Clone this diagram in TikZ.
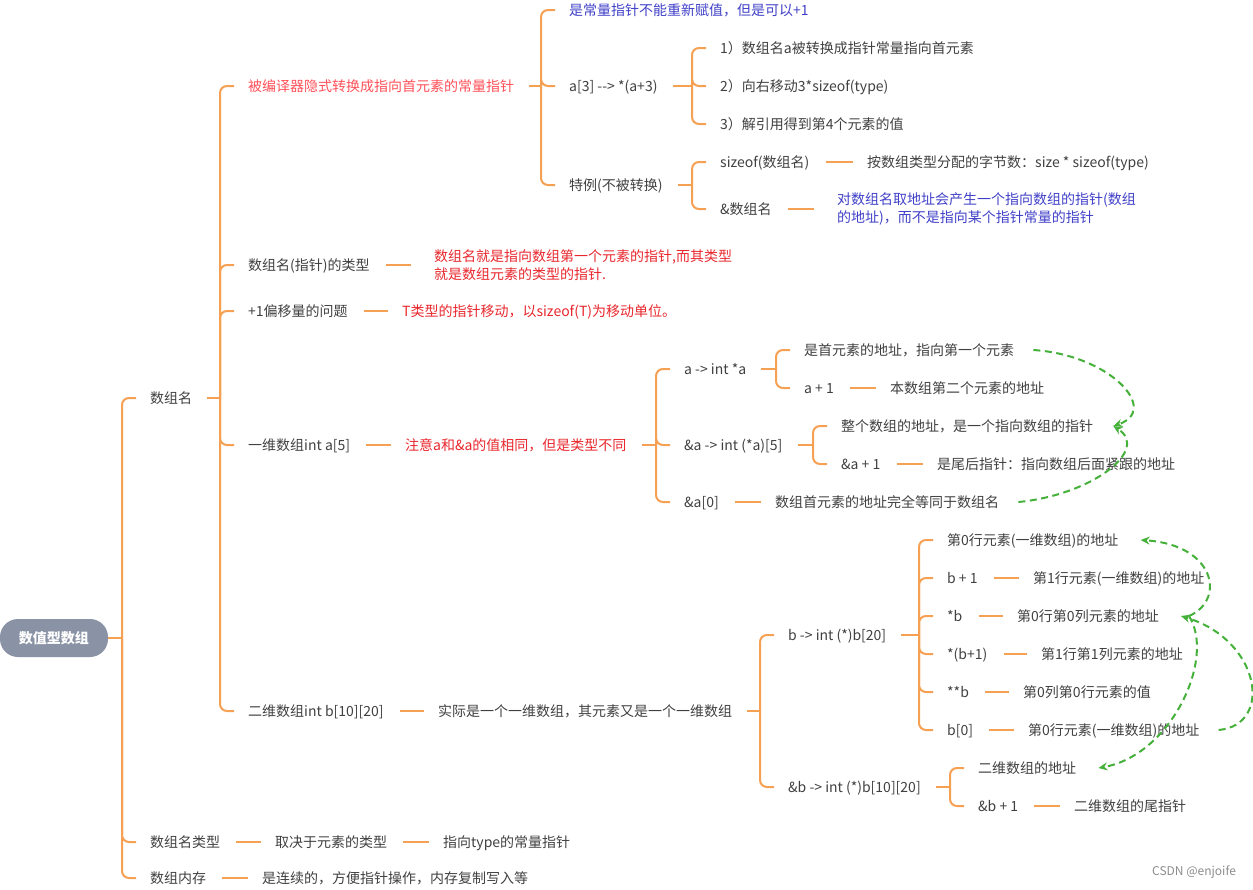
\documentclass[tikz,border=0pt]{standalone}
\usepackage{fontspec}
\setmainfont{Noto Sans CJK SC}
\usetikzlibrary{positioning,calc,arrows.meta}

\definecolor{lineor}{HTML}{F5A053}
\definecolor{txtgray}{HTML}{404040}
\definecolor{txtpink}{HTML}{FF5058}
\definecolor{txtred}{HTML}{E8272D}
\definecolor{txtblue}{HTML}{4040C8}
\definecolor{relgreen}{HTML}{45B03A}
\definecolor{rootfill}{HTML}{8A93A5}

\tikzset{
  item/.style={anchor=west,inner sep=0pt,text height=12pt,text depth=2pt,text=txtgray,font=\fontsize{14}{18}\selectfont},
  redtxt/.style={item,text=txtred},
  pinktxt/.style={item,text=txtpink},
  bluetxt/.style={item,text=txtblue},
  note/.style={anchor=west,inner ysep=0pt,inner xsep=9pt,align=left,font=\fontsize{14}{18}\selectfont},
  br/.style={draw=lineor,line width=2pt},
  rel/.style={draw=relgreen,line width=2pt,dash pattern=on 7pt off 4.5pt,-{Stealth[length=9pt,width=8pt]}},
}

% parent, first child (fixes the bracket), all children
\newcommand{\brfork}[4][15pt]{%
  \path let \p1=(#3.west), \p2=(#2.east) in (\x1-28pt,\y2) coordinate (fk);
  \draw[br] ([xshift=#1]#2.east) -- (fk);
  \foreach \ch in {#4}{\draw[br,rounded corners=7pt] (fk) |- ([xshift=-14pt]\ch.west);}
}
\newcommand{\dashto}[2]{\draw[br] ([xshift=16pt]#1.east) -- ([xshift=-14pt]#2.west);}

\begin{document}
\begin{tikzpicture}[x=1pt,y=-1pt]
  \useasboundingbox (0,0) rectangle (1253,889);

  % root and first level
  \node[fill=rootfill,rounded corners=18pt,minimum width=108pt,minimum height=38pt,inner sep=0pt,
        text=white,font=\fontsize{14}{18}\selectfont\bfseries] (root) at (54,638) {数值型数组};
  \node[item] (n1) at (150,398) {数组名};
  \node[item] (n2) at (150,842) {数组名类型};
  \node[item] (n2a) at (275,842) {取决于元素的类型};
  \node[item] (n2b) at (443,842) {指向type的常量指针};
  \node[item] (n3) at (150,878) {数组内存};
  \node[item] (n3a) at (262,878) {是连续的，方便指针操作，内存复制写入等};

  % under 数组名
  \node[pinktxt] (n11) at (248,86) {被编译器隐式转换成指向首元素的常量指针};
  \node[item] (n12) at (248,265) {数组名(指针)的类型};
  \node[note,text=txtred] (n12a) at (425,265) {数组名就是指向数组第一个元素的指针,而其类型\\就是数组元素的类型的指针.};
  \node[item] (n13) at (248,311) {+1偏移量的问题};
  \node[redtxt] (n13a) at (402,311) {T类型的指针移动，以sizeof(T)为移动单位。};
  \node[item] (n14) at (248,445) {一维数组int a[5]};
  \node[redtxt] (n14a) at (405,445) {注意a和\&a的值相同，但是类型不同};
  \node[item] (n15) at (248,711) {二维数组int b[10][20]};
  \node[item] (n15a) at (438,711) {实际是一个一维数组，其元素又是一个一维数组};

  % implicit conversion
  \node[bluetxt] (n111) at (569,10) {是常量指针不能重新赋值，但是可以+1};
  \node[item] (n112) at (569,86) {a[3] -{}-> *(a+3)};
  \node[item] (n113) at (569,185) {特例(不被转换)};
  \node[item] (n1121) at (720,48) {1）数组名a被转换成指针常量指向首元素};
  \node[item] (n1122) at (720,86) {2）向右移动3*sizeof(type)};
  \node[item] (n1123) at (720,124) {3）解引用得到第4个元素的值};
  \node[item] (n1131) at (720,162) {sizeof(数组名)};
  \node[item] (n1131a) at (867,162) {按数组类型分配的字节数：size * sizeof(type)};
  \node[item] (n1132) at (720,209) {\&数组名};
  \node[note,text=txtblue] (n1132a) at (828,209) {对数组名取地址会产生一个指向数组的指针(数组\\的地址)，而不是指向某个指针常量的指针};

  % one-dimensional array
  \node[item] (n141) at (684,369) {a -> int *a};
  \node[item] (n1411) at (804,350) {是首元素的地址，指向第一个元素};
  \node[item] (n1412) at (804,388) {a + 1};
  \node[item] (n1412a) at (890,388) {本数组第二个元素的地址};
  \node[item] (n142) at (684,445) {\&a -> int (*a)[5]};
  \node[item] (n1421) at (841,426) {整个数组的地址，是一个指向数组的指针};
  \node[item] (n1422) at (841,464) {\&a + 1};
  \node[item] (n1422a) at (937,464) {是尾后指针：指向数组后面紧跟的地址};
  \node[item] (n143) at (684,502) {\&a[0]};
  \node[item] (n143a) at (775,502) {数组首元素的地址完全等同于数组名};

  % two-dimensional array
  \node[item] (n151) at (788,635) {b -> int (*)b[20]};
  \node[item] (n1511) at (947,540) {第0行元素(一维数组)的地址};
  \node[item] (n1512) at (947,578) {b + 1};
  \node[item] (n1512a) at (1033,578) {第1行元素(一维数组)的地址};
  \node[item] (n1513) at (947,616) {*b};
  \node[item] (n1513a) at (1017,616) {第0行第0列元素的地址};
  \node[item] (n1514) at (947,654) {*(b+1)};
  \node[item] (n1514a) at (1041,654) {第1行第1列元素的地址};
  \node[item] (n1515) at (947,692) {**b};
  \node[item] (n1515a) at (1023,692) {第0列第0行元素的值};
  \node[item] (n1516) at (947,730) {b[0]};
  \node[item] (n1516a) at (1028,730) {第0行元素(一维数组)的地址};
  \node[item] (n152) at (788,787) {\&b -> int (*)b[10][20]};
  \node[item] (n1521) at (978,768) {二维数组的地址};
  \node[item] (n1522) at (978,806) {\&b + 1};
  \node[item] (n1522a) at (1074,806) {二维数组的尾指针};

  \node[anchor=west,inner sep=0pt,text=black!45,font=\fontsize{12}{14}\selectfont] (mark) at (1152,872) {CSDN @enjoife};

  % brackets
  \brfork[0pt]{root}{n1}{n1,n2,n3}
  \brfork{n1}{n11}{n11,n12,n13,n14,n15}
  \brfork{n11}{n111}{n111,n112,n113}
  \brfork{n112}{n1121}{n1121,n1122,n1123}
  \brfork{n113}{n1131}{n1131,n1132}
  \brfork{n14a}{n141}{n141,n142,n143}
  \brfork{n141}{n1411}{n1411,n1412}
  \brfork{n142}{n1421}{n1421,n1422}
  \brfork{n15a}{n151}{n151,n152}
  \brfork{n151}{n1511}{n1511,n1512,n1513,n1514,n1515,n1516}
  \brfork{n152}{n1521}{n1521,n1522}

  % single links
  \dashto{n2}{n2a} \dashto{n2a}{n2b} \dashto{n3}{n3a}
  \dashto{n12}{n12a} \dashto{n13}{n13a} \dashto{n14}{n14a} \dashto{n15}{n15a}
  \dashto{n1131}{n1131a} \dashto{n1132}{n1132a}
  \dashto{n1412}{n1412a} \dashto{n1422}{n1422a} \dashto{n143}{n143a}
  \dashto{n1512}{n1512a} \dashto{n1513}{n1513a} \dashto{n1514}{n1514a}
  \dashto{n1515}{n1515a} \dashto{n1516}{n1516a} \dashto{n1522}{n1522a}

  % relations
  \draw[rel] ([xshift=19pt]n1411.east) .. controls +(77,5) and +(47,-16) .. ([xshift=20pt]n1421.east);
  \draw[rel] ([xshift=19pt]n143a.east) .. controls +(73,-7) and +(37,24) .. ([xshift=20pt]n1421.east);
  \draw[rel] ([xshift=19pt]n1516a.east) .. controls +(55,-5) and +(80,24) .. ([xshift=22pt]n1513a.east);
  \draw[rel] ([xshift=30pt]n1513a.east) .. controls +(37,-16) and +(75,5) .. ([xshift=22pt]n1511.east);
  \draw[rel] ([xshift=30pt]n1513a.east) .. controls +(27,42) and +(73,-13) .. ([xshift=22pt]n1521.east);
\end{tikzpicture}
\end{document}
